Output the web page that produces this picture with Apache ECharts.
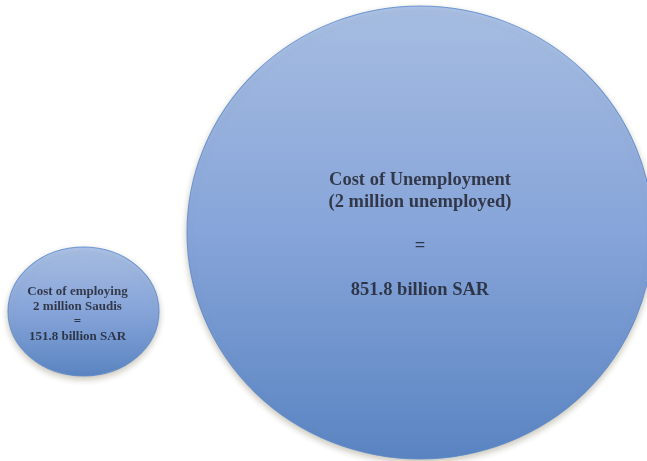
<!DOCTYPE html>
<html>
<head>
<meta charset="utf-8">
<script src="https://cdn.jsdelivr.net/npm/echarts@6/dist/echarts.min.js"></script>
<style>html,body{margin:0;padding:0;background:#fff}#c{width:647px;height:461px}</style>
</head>
<body>
<div id="c"></div>
<script>
// Data
var names = ['Cost of employing', 'Cost of Unemployment'];
var subtitles = ['2 million Saudis', '(2 million unemployed)'];
var values = [151.8, 851.8];
var unit = 'billion SAR';

// Layout (positions/sizes in pixel space of the hidden axes)
var centers = [[83.5, 311.5], [420, 232.5]];
var sizes = [[151, 129], [466, 453]];

var chart = echarts.init(document.getElementById('c'), null, {renderer: 'canvas'});

function grad() {
  return {
    type: 'linear', x: 0, y: 0, x2: 0, y2: 1,
    colorStops: [
      {offset: 0, color: '#9dbaea'},
      {offset: 0.5, color: '#759be0'},
      {offset: 1, color: '#3d73c2'}
    ]
  };
}

var seriesData = values.map(function (v, i) {
  var isSmall = i === 0;
  var text = isSmall
    ? '{a|' + names[i] + '}\n{a|' + subtitles[i] + '}\n{a|=}\n{a|' + v.toFixed(1) + ' ' + unit + '}'
    : '{b|' + names[i] + '}\n{b|' + subtitles[i] + '}\n{b|}\n{b|=}\n{b|}\n{b|' + v.toFixed(1) + ' ' + unit + '}';
  return {
    value: centers[i],
    symbolSize: sizes[i],
    itemStyle: {
      color: grad(),
      borderColor: '#5586cc',
      borderWidth: 1,
      shadowBlur: 6,
      shadowColor: 'rgba(70,60,20,0.35)',
      shadowOffsetY: 3
    },
    label: {
      show: true,
      position: 'inside',
      offset: isSmall ? [-6, 3] : [0, 3],
      formatter: text,
      rich: {
        a: {fontFamily: 'Liberation Serif', fontWeight: 'bold', fontSize: 13, color: '#1b1b24', lineHeight: 15, align: 'center'},
        b: {fontFamily: 'Liberation Serif', fontWeight: 'bold', fontSize: 18.5, color: '#1b1b24', lineHeight: 22, align: 'center'}
      }
    }
  };
});

chart.setOption({
  animation: false,
  grid: {left: 0, right: 0, top: 0, bottom: 0},
  xAxis: {type: 'value', min: 0, max: 647, show: false},
  yAxis: {type: 'value', min: 0, max: 461, inverse: true, show: false},
  series: [{
    type: 'scatter',
    symbol: 'circle',
    clip: false,
    data: seriesData,
    emphasis: {disabled: true}
  }]
});
</script>
</body>
</html>
